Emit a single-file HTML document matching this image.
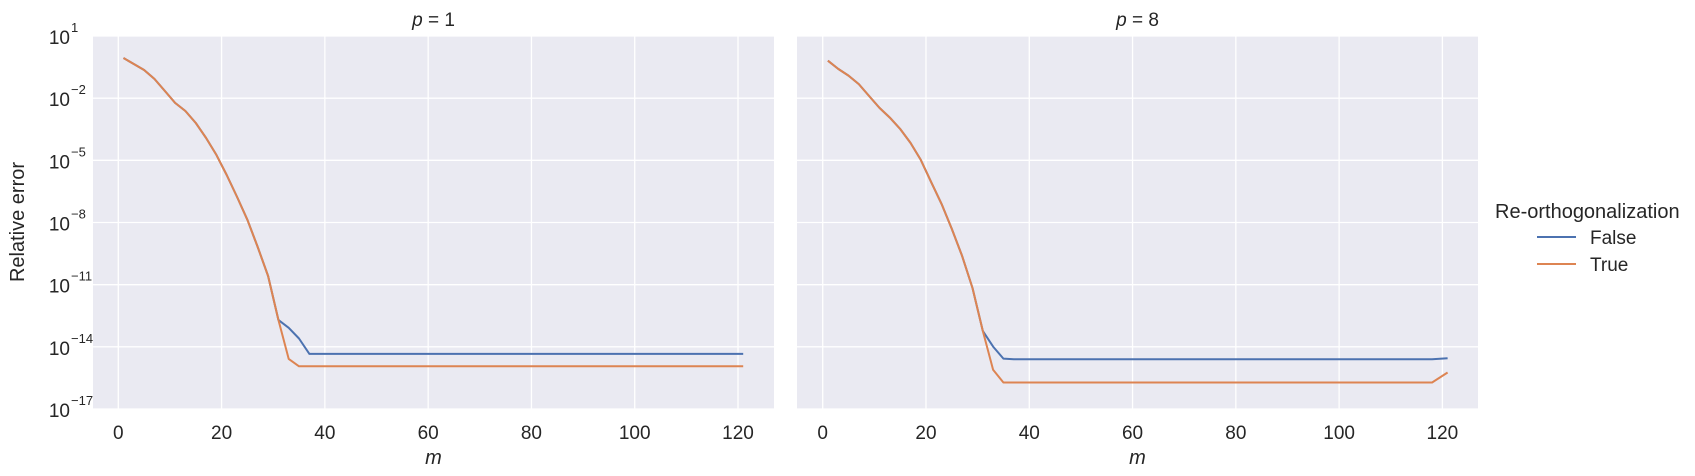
<!DOCTYPE html>
<html><head><meta charset="utf-8"><style>
body{margin:0;background:#fff;}
svg{display:block;font-family:"Liberation Sans","DejaVu Sans",sans-serif;}
</style></head><body>
<svg id="chart" width="1695" height="476" viewBox="0 0 1695 476"></svg>
<script>
const mVals = [1,3,5,7,9,11,13,15,17,19,21,23,25,27,29,31,33,35,37,118,121];
const p1False = [-0.06,-0.35,-0.64,-1.07,-1.65,-2.23,-2.62,-3.2,-3.92,-4.74,-5.71,-6.77,-7.87,-9.18,-10.58,-12.7,-13.08,-13.6,-14.34,-14.34,-14.34];
const p1True  = [-0.06,-0.35,-0.64,-1.07,-1.65,-2.23,-2.62,-3.2,-3.92,-4.74,-5.71,-6.77,-7.87,-9.18,-10.58,-12.7,-14.58,-14.94,-14.94,-14.94,-14.94];
const p8False = [-0.19,-0.59,-0.91,-1.32,-1.9,-2.47,-2.94,-3.49,-4.16,-4.98,-6.04,-7.1,-8.31,-9.61,-11.16,-13.23,-13.99,-14.57,-14.6,-14.6,-14.55];
const p8True  = [-0.19,-0.59,-0.91,-1.32,-1.9,-2.47,-2.94,-3.49,-4.16,-4.98,-6.04,-7.1,-8.31,-9.61,-11.16,-13.23,-15.11,-15.72,-15.72,-15.72,-15.24];
const xTicks = [0,20,40,60,80,100,120];
const yTicks = [1,-2,-5,-8,-11,-14,-17];
const panelTitles = ["1","8"];
const seriesNames = ["False","True"];
const colors = ["#4c72b0","#dd8452"];

const NS="http://www.w3.org/2000/svg";
const svgRoot=document.getElementById('chart');
function mk(tag,attrs,parent){const e=document.createElementNS(NS,tag);for(const k in attrs)e.setAttribute(k,attrs[k]);(parent||svgRoot).appendChild(e);return e;}
const plotTop=36,plotBot=409;
function yS(v){return plotTop+(1-v)/18*(plotBot-plotTop);}
const panels=[{x0:93,x1:774,zero:118.3,data:[p1False,p1True]},{x0:797,x1:1478,zero:822.7,data:[p8False,p8True]}];
const pxPer=(738-118.3)/120;
panels.forEach((p,pi)=>{
  const xS=v=>p.zero+v*pxPer;
  const g=mk('g',{});
  
  
  const bg=mk('rect',{x:p.x0,y:plotTop,width:p.x1-p.x0,height:plotBot-plotTop,fill:'#eaeaf2'},g);
  
  
  yTicks.forEach(t=>{
    const gl=mk('line',{x1:p.x0,x2:p.x1,y1:yS(t),y2:yS(t),stroke:'#fff','stroke-width':1.3},g);
    
    
    if(pi===0){
      const tx=mk('text',{x:70,y:yS(t)+8,'text-anchor':'end','font-size':19,fill:'#262626'},g);
      
      
      tx.textContent='10';
      const sp=mk('text',{x:71,y:yS(t)-4,'font-size':13,fill:'#262626'},g);
      
      
      sp.textContent=(t<0?'\u2212'+(-t):String(t));
    }
  });
  xTicks.forEach(t=>{
    const gl=mk('line',{x1:xS(t),x2:xS(t),y1:plotTop,y2:plotBot,stroke:'#fff','stroke-width':1.3},g);
    
    
    const tx=mk('text',{x:xS(t),y:439,'text-anchor':'middle','font-size':19,fill:'#262626'},g);
    
    
    tx.textContent=t;
  });
  p.data.forEach((ser,si)=>{
    const d=ser.map((v,i)=>(i?'L':'M')+xS(mVals[i]).toFixed(1)+','+yS(v).toFixed(1)).join(' ');
    const pl=mk('path',{d:d,fill:'none',stroke:colors[si],'stroke-width':2,'stroke-linejoin':'round'},g);
    
    
  });
  const ti=mk('text',{x:(p.x0+p.x1)/2,y:26,'text-anchor':'middle','font-size':19,fill:'#262626'},g);
  
  
  const tsp=mk('tspan',{'font-style':'italic'},ti);
  tsp.textContent='p';
  ti.appendChild(document.createTextNode(' = '+panelTitles[pi]));
  const xl=mk('text',{x:(p.x0+p.x1)/2,y:464,'text-anchor':'middle','font-size':20,'font-style':'italic',fill:'#262626'},g);
  
  
  xl.textContent='m';
});
const yl=mk('text',{x:24,y:222,'text-anchor':'middle','font-size':20,fill:'#262626',transform:'rotate(-90 24 222)'});


yl.textContent='Relative error';
const lt=mk('text',{x:1495,y:218,'font-size':20,fill:'#262626'});


lt.textContent='Re-orthogonalization';
seriesNames.forEach((n,i)=>{
  const y=237+i*27;
  const ll=mk('line',{x1:1537,x2:1576,y1:y,y2:y,stroke:colors[i],'stroke-width':2});
  
  
  const tx=mk('text',{x:1590,y:y+7,'font-size':19,fill:'#262626'});
  
  
  tx.textContent=n;
});
</script>
</body></html>
